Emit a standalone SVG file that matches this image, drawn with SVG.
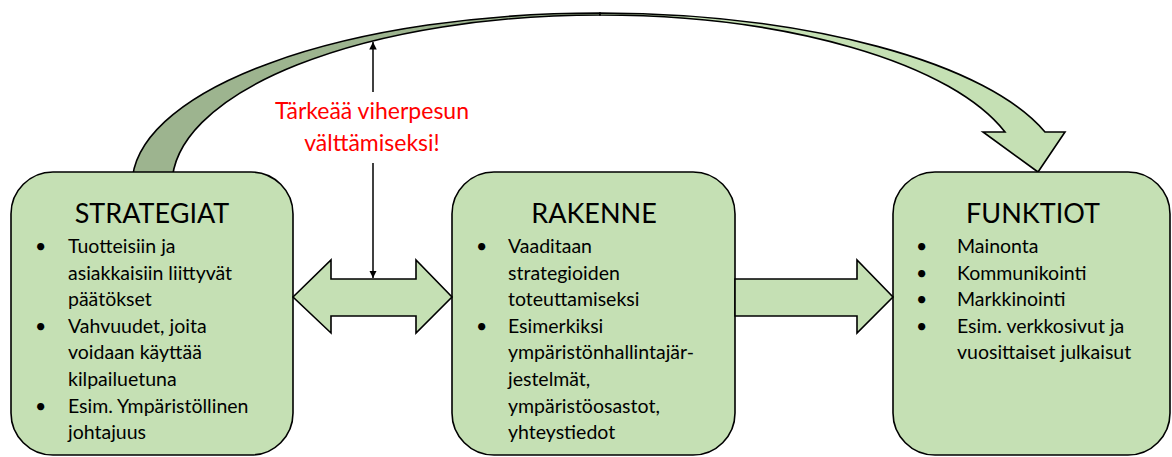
<svg xmlns="http://www.w3.org/2000/svg" width="1172" height="457" viewBox="0 0 1172 457">
<defs>
<style>
.box{fill:#c5e0b4;stroke:#000;stroke-width:1.6}
.blk{fill:#c5e0b4;stroke:#000;stroke-width:1.6;stroke-linejoin:miter}
.dark{fill:#9db48f;stroke:#000;stroke-width:1.6}
.ttl{font-family:Lato,"Liberation Sans",sans-serif;font-size:27px;fill:#000;text-anchor:middle}
.body{font-family:Lato,"Liberation Sans",sans-serif;font-size:19.5px;fill:#000}
.red{font-family:Lato,"Liberation Sans",sans-serif;font-size:23px;fill:#ff0000;text-anchor:middle}
.thin{stroke:#000;stroke-width:1.5;fill:none}
</style>
<marker id="ah" viewBox="0 0 10 10" refX="10" refY="5" markerWidth="5" markerHeight="5" orient="auto" markerUnits="strokeWidth">
<path d="M0,0 L10,5 L0,10 Z" fill="#000"/>
</marker>
</defs>
<rect width="1172" height="457" fill="#fff"/>
<g id="connectors">
<g id="curved-arrow">
<path class="dark" d="M132,185 A468 172 0 0 1 600,13 L600,15 A428 170 0 0 0 172,185 Z"/>
<path class="blk" d="M600,13 A468 167 0 0 1 1045,132 L1065,132 L1038,172 L983,132 L1005,132 A423 165 0 0 0 600,15 Z"/>
</g>
</g>
<g id="strategiat">
<rect class="box" x="11" y="172" width="282" height="283" rx="42"/>
<text class="ttl" x="152" y="223">STRATEGIAT</text>
<text class="body">
<tspan x="35" y="253">•</tspan><tspan x="68" y="253">Tuotteisiin ja</tspan>
<tspan x="68" y="279.6">asiakkaisiin liittyvät</tspan>
<tspan x="68" y="306.2">päätökset</tspan>
<tspan x="35" y="332.8">•</tspan><tspan x="68" y="332.8">Vahvuudet, joita</tspan>
<tspan x="68" y="359.4">voidaan käyttää</tspan>
<tspan x="68" y="386">kilpailuetuna</tspan>
<tspan x="35" y="412.6">•</tspan><tspan x="68" y="412.6">Esim. Ympäristöllinen</tspan>
<tspan x="68" y="439.2">johtajuus</tspan>
</text>
</g>
<g id="rakenne">
<rect class="box" x="452" y="172" width="283" height="283" rx="42"/>
<text class="ttl" x="594" y="223">RAKENNE</text>
<text class="body">
<tspan x="476" y="253">•</tspan><tspan x="508" y="253">Vaaditaan</tspan>
<tspan x="508" y="279.6">strategioiden</tspan>
<tspan x="508" y="306.2">toteuttamiseksi</tspan>
<tspan x="476" y="332.8">•</tspan><tspan x="508" y="332.8">Esimerkiksi</tspan>
<tspan x="508" y="359.4">ympäristönhallintajär-</tspan>
<tspan x="508" y="386">jestelmät,</tspan>
<tspan x="508" y="412.6">ympäristöosastot,</tspan>
<tspan x="508" y="439.2">yhteystiedot</tspan>
</text>
</g>
<g id="funktiot">
<rect class="box" x="893" y="172" width="277" height="283" rx="42"/>
<text class="ttl" x="1033" y="223">FUNKTIOT</text>
<text class="body">
<tspan x="916" y="253">•</tspan><tspan x="957" y="253">Mainonta</tspan>
<tspan x="916" y="279.6">•</tspan><tspan x="957" y="279.6">Kommunikointi</tspan>
<tspan x="916" y="306.2">•</tspan><tspan x="957" y="306.2">Markkinointi</tspan>
<tspan x="916" y="332.8">•</tspan><tspan x="957" y="332.8">Esim. verkkosivut ja</tspan>
<tspan x="957" y="359.4">vuosittaiset julkaisut</tspan>
</text>
</g>
<g id="connectors-2">
<path id="double-arrow" class="blk" d="M293,297 L331,260 L331,279 L416,279 L416,260 L452,297 L416,333 L416,316 L331,316 L331,333 Z"/>
<path id="right-arrow" class="blk" d="M735,279 L857,279 L857,260 L893,297 L857,333 L857,316 L735,316 Z"/>
<line class="thin" x1="373" y1="92" x2="373" y2="42" marker-end="url(#ah)"/>
<line class="thin" x1="373" y1="163" x2="373" y2="278" marker-end="url(#ah)"/>
</g>
<g id="note">
<text class="red" x="372" y="119">Tärkeää viherpesun</text>
<text class="red" x="372" y="151">välttämiseksi!</text>
</g>
</svg>
